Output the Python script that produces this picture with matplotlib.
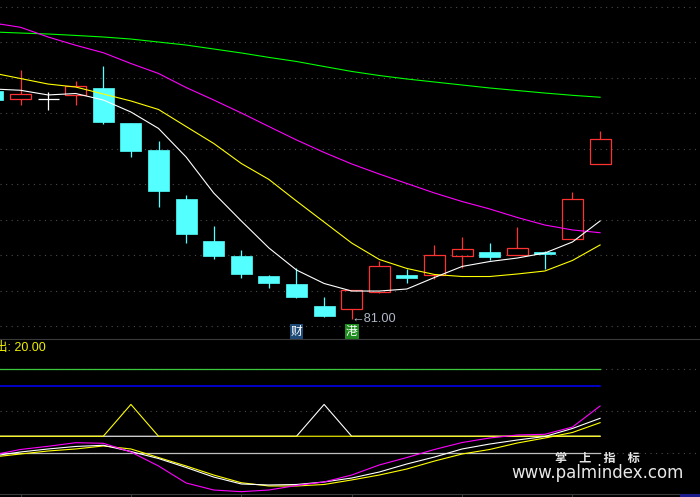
import matplotlib
matplotlib.use('Agg')
import matplotlib.pyplot as plt
import matplotlib.transforms as mtransforms
from matplotlib.patches import Rectangle
import numpy as np

# daily bars; day -1 is the one cut off at the left edge
days = list(range(-1, 22))
opens  = [100.00, 99.31, 99.31, 99.67, 100.25, 97.33, 95.08, 91.00, 87.50, 86.25, 84.58, 83.92,
          82.08, 81.81, 83.22, 84.69, 84.64, 86.21, 86.56, 86.31, 86.56, 87.64, 93.89]
highs  = [100.17, 101.75, 99.92, 100.83, 102.08, 97.33, 95.83, 91.33, 88.75, 86.75, 84.67, 85.28,
          82.83, 83.39, 85.83, 85.17, 87.17, 87.83, 87.33, 88.67, 86.67, 91.58, 96.67]
lows   = [99.00, 98.83, 98.42, 98.83, 97.25, 94.53, 90.36, 87.36, 86.03, 84.44, 83.61, 82.78,
          81.19, 81.00, 83.14, 84.03, 84.36, 85.25, 85.94, 86.31, 85.19, 87.64, 93.89]
closes = [99.25, 99.73, 99.31, 100.44, 97.42, 95.00, 91.69, 88.11, 86.28, 84.78, 84.03, 82.86,
          81.28, 83.39, 85.42, 84.44, 86.31, 86.81, 86.19, 86.89, 86.42, 90.98, 95.98]

ma5  = [100.17, 100.06, 99.67, 99.79, 99.25, 98.25, 96.88, 94.50, 91.50, 89.17, 86.92, 85.08,
        83.96, 83.33, 83.33, 83.50, 84.46, 85.38, 85.79, 86.08, 86.50, 87.42, 89.17]
ma10 = [101.50, 101.04, 100.58, 100.33, 99.75, 99.17, 98.46, 97.04, 95.63, 93.96, 92.63, 90.83,
        89.08, 87.33, 85.96, 85.21, 84.71, 84.54, 84.54, 84.75, 85.00, 85.88, 87.17]
ma20 = [105.67, 105.31, 104.50, 103.81, 103.19, 102.29, 101.46, 100.29, 99.25, 98.17, 97.04, 95.92,
        94.88, 93.92, 93.08, 92.29, 91.50, 90.79, 90.17, 89.46, 88.83, 88.42, 88.19]
ma60 = [104.92, 104.83, 104.75, 104.63, 104.50, 104.33, 104.08, 103.83, 103.50, 103.17, 102.80, 102.46,
        102.04, 101.63, 101.29, 101.00, 100.75, 100.50, 100.25, 100.04, 99.83, 99.64, 99.48]

low_mark = 81.00

# lower indicator panel
ind_mag   = [-2.4, 4.2, 8.0, 12.3, 11.6, 1.2, -15.5, -35.8, -44.2, -46.2, -44.2, -38.8,
             -34.6, -26.3, -14.3, -5.4, 4.2, 12.5, 17.9, 21.5, 22.3, 31.0, 56.1]
ind_white = [-3.6, 1.2, 4.8, 7.8, 9.2, 1.8, -6.6, -17.3, -28.7, -37.0, -38.2, -37.6,
             -34.6, -29.9, -22.7, -13.1, -4.8, 4.8, 10.7, 15.5, 19.7, 29.3, 41.4]
ind_yel   = [-4.8, -1.2, 2.4, 4.8, 8.4, 4.8, -5.4, -15.5, -26.3, -35.5, -39.4, -39.4,
             -37.6, -32.2, -26.3, -19.1, -9.6, -1.2, 4.2, 11.9, 17.9, 24.5, 36.2]
sig_white = [20, 20, 20, 20, 20, 20, 20, 20, 20, 20, 20, 20,
             58, 20, 20, 20, 20, 20, 20, 20, 20, 20, 20]
sig_yel   = [20, 20, 20, 20, 20, 58, 20, 20, 20, 20, 20, 20,
             20, 20, 20, 20, 20, 20, 20, 20, 20, 20, 20]
lvl_high = 100
lvl_mid = 80
lvl_zero = 0

W, H = 700, 497
fig = plt.figure(figsize=(7, 4.97), dpi=100, facecolor='black')
ax = fig.add_axes([0, (H - 339) / H, 1, 339 / H])
ax2 = fig.add_axes([0, (H - 494) / H, 1, 155 / H])
for a in (ax, ax2):
    a.set_facecolor('black')
    a.set_xlim(-0.743, 24.62)
    a.set_yticks([])
    for s in a.spines.values():
        s.set_visible(False)
ax.set_xticks([])
ax.set_ylim(79.333, 107.583)
ax2.set_ylim(-48.96, 136.1)

dots = dict(color='#4a4a4a', lw=0.8, linestyle=(0, (1, 4)))
for lv in 107.0 - 2.958 * np.arange(10):
    ax.axhline(lv, **dots, zorder=0)
for lv in (100, 50, 0):
    ax2.axhline(lv, **dots, zorder=0)

# candles
bw = 0.76
red, cyan = '#ff3232', '#54ffff'
for d, o, h, l, c in zip(days, opens, highs, lows, closes):
    if c > o:
        ax.vlines(d, c, h, color=red, lw=0.9, zorder=3)
        ax.vlines(d, l, o, color=red, lw=0.9, zorder=3)
        ax.add_patch(Rectangle((d - bw / 2, o), bw, c - o, fill=False,
                               edgecolor=red, lw=0.9, zorder=3))
    elif c < o:
        ax.vlines(d, l, h, color=cyan, lw=0.9, zorder=3)
        ax.add_patch(Rectangle((d - bw / 2, c), bw, o - c, facecolor=cyan,
                               edgecolor=cyan, lw=0.5, zorder=3))
    else:
        ax.vlines(d, l, h, color='white', lw=0.9, zorder=3)
        ax.hlines(o, d - bw / 2, d + bw / 2, color='white', lw=0.9, zorder=3)

ax.plot(days, ma60, color='#00ff00', lw=0.8, zorder=4)
ax.plot(days, ma20, color='#ff00ff', lw=0.8, zorder=4)
ax.plot(days, ma10, color='#ffff00', lw=0.8, zorder=4)
ax.plot(days, ma5, color='white', lw=0.8, zorder=4)

ax.text(12, low_mark, '\u219081.00', color='#b0b8c8', fontsize=9.2,
        family=['Liberation Sans', 'DejaVu Sans'], ha='left', va='center', zorder=5)

trans = mtransforms.blended_transform_factory(ax.transData, ax.transAxes)
ax.text(10, 0.022, '财', color='white', fontsize=8.5, family='Noto Sans CJK SC',
        ha='center', va='center', transform=trans,
        bbox=dict(boxstyle='square,pad=0.08', facecolor='#1e4a78', edgecolor='none'))
ax.text(12, 0.022, '港', color='white', fontsize=8.5, family='Noto Sans CJK SC',
        ha='center', va='center', transform=trans,
        bbox=dict(boxstyle='square,pad=0.08', facecolor='#1e8c1e', edgecolor='none'))

# lower panel
n = len(days)
ax2.plot(days, [lvl_high] * n, color='#3cc83c', lw=0.9)
ax2.plot(days, [lvl_mid] * n, color='#0000ff', lw=1.1)
ax2.plot(days, [lvl_zero] * n, color='#c0c0c0', lw=0.9)
ax2.plot(days, sig_white, color='white', lw=0.8)
ax2.plot(days, sig_yel, color='#ffff00', lw=0.8)
ax2.plot(days, ind_yel, color='#ffff00', lw=0.8)
ax2.plot(days, ind_white, color='white', lw=0.8)
ax2.plot(days, ind_mag, color='#ff00ff', lw=0.8)

ax2.spines['top'].set_visible(True)
ax2.spines['top'].set_color('#3a3a3a')
ax2.spines['bottom'].set_visible(True)
ax2.spines['bottom'].set_color('#3a3a3a')
ax2.set_xticks([0, 4, 8, 12, 16, 20])
ax2.set_xticklabels([])
ax2.tick_params(axis='x', direction='out', length=2.2, color='#3a3a3a')

fig.text(-5 / W, 1 - 347.5 / H, '出: 20.00', color='#f0f000', fontsize=9,
         family=['Liberation Sans', 'Noto Sans CJK SC'], ha='left', va='center')

fig.text(597 / W, 1 - 458.5 / H, '掌\u3000上\u3000指\u3000标', color='#e8e8e8',
         fontsize=8.7, family='Noto Sans CJK SC', fontweight='bold', ha='center', va='center')
fig.text(597 / W, 1 - 473 / H, 'www.palmindex.com', color='#e8e8e8', fontsize=12,
         family='DejaVu Sans', ha='center', va='center')

fig.add_artist(Rectangle((680 / W, 0), 20 / W, 3 / H, facecolor='#1a1a8c',
                         edgecolor='none', transform=fig.transFigure))

fig.savefig('out.png', dpi=100, facecolor='black')
